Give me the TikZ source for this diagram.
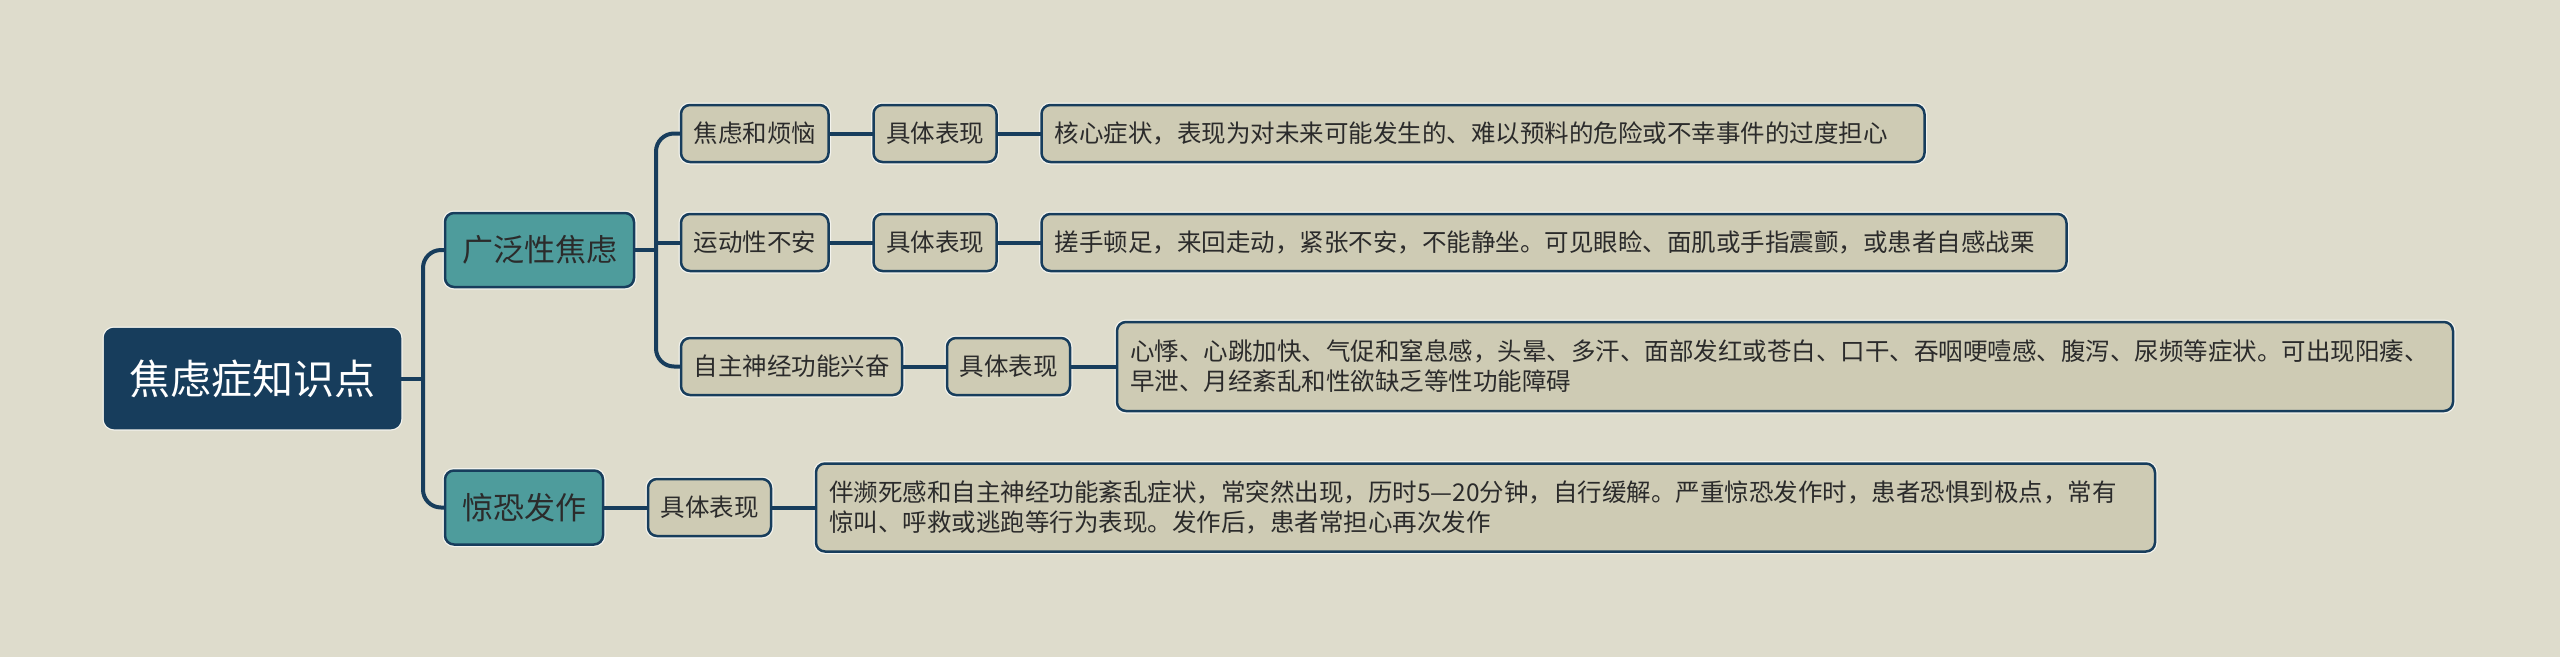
\documentclass[tikz,border=0pt]{standalone}
\usepackage{fontspec}
\newfontfamily\cjk{Noto Sans CJK SC}
\usetikzlibrary{positioning}
\definecolor{bgcol}{HTML}{DEDCCC}
\definecolor{navy}{HTML}{173D5C}
\definecolor{topiccol}{HTML}{4E9C9C}
\definecolor{leafcol}{HTML}{CECBB4}
\definecolor{inkcol}{HTML}{2B2B2B}
\tikzset{
  box/.style={draw=navy,line width=2.5pt,rounded corners=9pt,inner sep=0pt,outer sep=0pt,
    preaction={draw=white!65!bgcol,line width=5pt}},
  rootnode/.style={box,fill=navy,text=white,font=\cjk\fontsize{41}{48}\selectfont,
    minimum width=295pt,minimum height=99pt},
  topicnode/.style={box,fill=topiccol,text=inkcol,font=\cjk\fontsize{31}{38}\selectfont,
    inner xsep=17pt,minimum height=74pt},
  subnode/.style={box,fill=leafcol,text=inkcol,font=\cjk\fontsize{24.5}{30}\selectfont,
    inner xsep=12.5pt,minimum height=57pt},
  descnode/.style={subnode,inner xsep=13pt,align=left},
  link/.style={draw=navy,line width=4pt,rounded corners=18pt},
}
\begin{document}
\begin{tikzpicture}[x=1pt,y=-1pt,node distance=45pt]

\fill[bgcol] (0,0) rectangle (2560,657);
\useasboundingbox (0,0) rectangle (2560,657);

\node[rootnode] (root) at (252.5,378.5) {焦虑症知识点};
\node[topicnode,anchor=west] (gad) at (445,250) {广泛性焦虑};
\node[topicnode,anchor=west] (panic) at (445,507.5) {惊恐发作};

\node[subnode,anchor=west] (worry) at (681,133.5) {焦虑和烦恼};
\node[subnode,right=of worry] (worryk) {具体表现};
\node[descnode,text width=857pt,right=of worryk] (worryd) {核心症状，表现为对未来可能发生的、难以预料的危险或不幸事件的过度担心};

\node[subnode,anchor=west] (motor) at (681,242.5) {运动性不安};
\node[subnode,right=of motor] (motork) {具体表现};
\node[descnode,text width=999pt,right=of motork] (motord) {搓手顿足，来回走动，紧张不安，不能静坐。可见眼睑、面肌或手指震颤，或患者自感战栗};

\node[subnode,anchor=west] (auto) at (681,366.5) {自主神经功能兴奋};
\node[subnode,right=of auto] (autok) {具体表现};
\node[descnode,text width=1310pt,minimum height=89pt,right=47pt of autok] (autod) {心悸、心跳加快、气促和窒息感，头晕、多汗、面部发红或苍白、口干、吞咽哽噎感、腹泻、尿频等症状。可出现阳痿、\\早泄、月经紊乱和性欲缺乏等性功能障碍};

\node[subnode,right=of panic] (panick) {具体表现};
\node[descnode,text width=1313pt,minimum height=88pt,right=of panick] (panicd) {伴濒死感和自主神经功能紊乱症状，常突然出现，历时5—20分钟，自行缓解。严重惊恐发作时，患者恐惧到极点，常有\\惊叫、呼救或逃跑等行为表现。发作后，患者常担心再次发作};

\coordinate (j0) at ([xshift=23pt]root.east);
\coordinate (j1) at ([xshift=22pt]gad.east);

\path[link] (root.east) -- (j0);
\path[link] (gad.west) -| (j0) |- (panic.west);
\path[link] (gad.east) -- (j1);
\path[link] (worry.west) -| (j1) |- (auto.west);
\path[link] (motor.west) -- (motor.west -| j1);

\path[link] (worry.east) -- (worryk.west);
\path[link] (worryk.east) -- (worryd.west);
\path[link] (motor.east) -- (motork.west);
\path[link] (motork.east) -- (motord.west);
\path[link] (auto.east) -- (autok.west);
\path[link] (autok.east) -- (autod.west);
\path[link] (panic.east) -- (panick.west);
\path[link] (panick.east) -- (panicd.west);

\end{tikzpicture}
\end{document}
